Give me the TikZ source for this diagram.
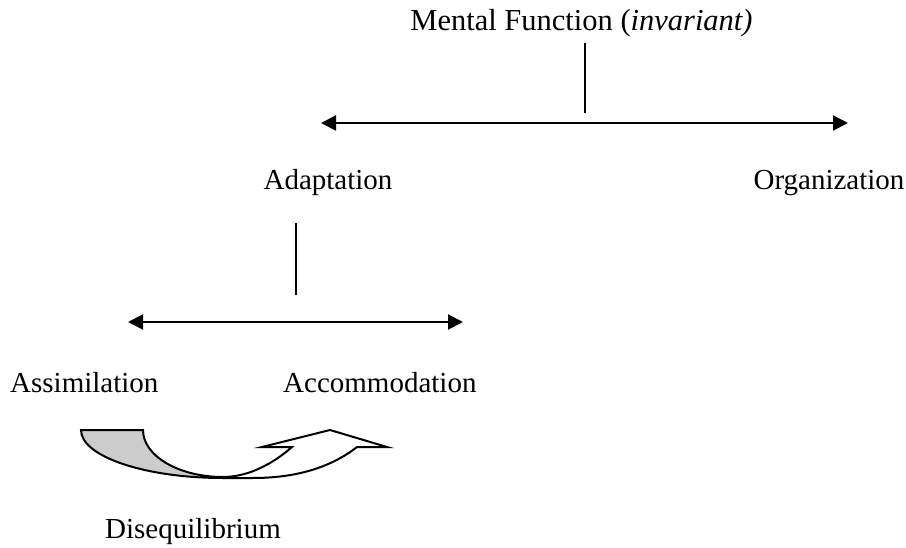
\documentclass[tikz,border=0pt]{standalone}
\usepackage{fontspec}
\setmainfont{Liberation Serif}
\usetikzlibrary{arrows.meta}
\definecolor{shade}{HTML}{CCCCCC}
\tikzset{
  lbl/.style={inner sep=0pt, font=\fontsize{29}{34}\selectfont},
  bigLbl/.style={inner sep=0pt, font=\fontsize{30.5}{36}\selectfont},
  conn/.style={line width=2pt},
  dbl/.style={line width=2pt, {Triangle[length=15pt,width=15pt]}-{Triangle[length=15pt,width=15pt]}},
  ribbon/.style={line width=2pt, line join=miter}
}
\begin{document}
\begin{tikzpicture}[x=1pt,y=-1pt]
\useasboundingbox (0,0) rectangle (906,548);
% text nodes
\node[bigLbl, anchor=base] (title) at (581.5,31) {Mental Function (\textit{invariant)}};
\node[lbl, anchor=base] (adapt) at (328,190) {Adaptation};
\node[lbl, anchor=base] (org) at (829,190) {Organization};
\node[lbl, anchor=base west] (assim) at (10,392) {Assimilation};
\node[lbl, anchor=base west] (accom) at (283,392) {Accommodation};
\node[lbl, anchor=base west] (diseq) at (105,538) {Disequilibrium};
% upper tree
\coordinate (t1) at (585,43);
\coordinate (t2) at (585,113);
\coordinate (ul) at (321,123);
\coordinate (ur) at (848,123);
\draw[conn] (t1) -- (t2);
\draw[dbl] (ul) -- (ur);
% lower tree
\coordinate (b1) at (296,223);
\coordinate (b2) at (296,295);
\coordinate (ll) at (128,322);
\coordinate (lr) at (463,322);
\draw[conn] (b1) -- (b2);
\draw[dbl] (ll) -- (lr);
% curved arrow: back (gray) part
\draw[ribbon, fill=shade] (81,430) -- (143,430)
  .. controls (143,456) and (179,477) .. (223,477)
  -- (223,478)
  .. controls (145,478) and (81,456.5) .. (81,430) -- cycle;
% curved arrow: front part with head
\draw[ribbon, fill=white] (223,477)
  .. controls (250,477) and (275,462) .. (292,447)
  -- (262,447) -- (330,430) -- (387,447) -- (357,447)
  .. controls (330,468) and (295,478) .. (253,478)
  -- (223,478);
\end{tikzpicture}
\end{document}
